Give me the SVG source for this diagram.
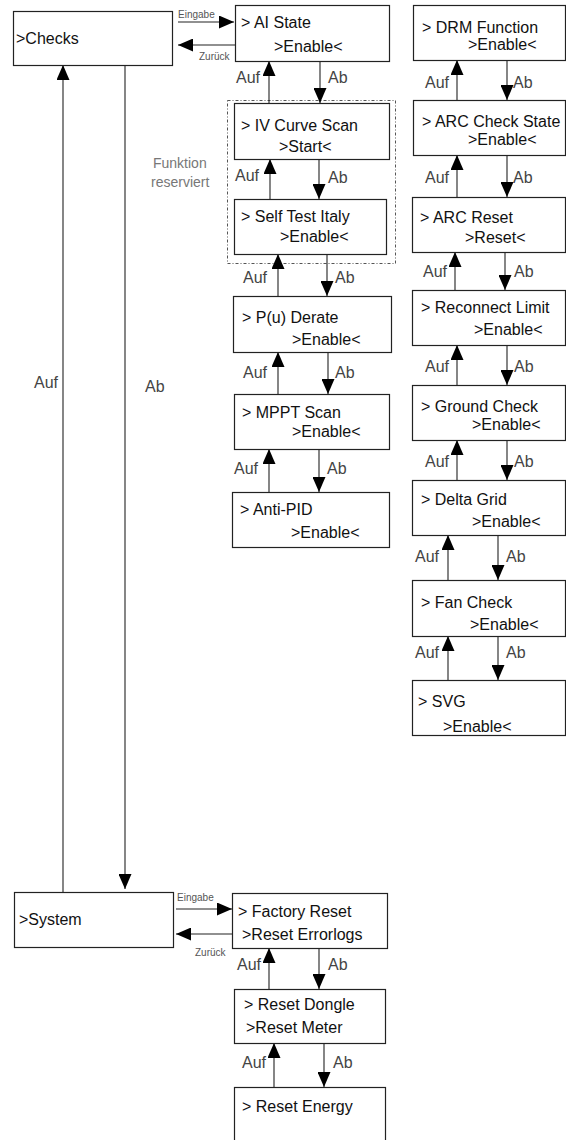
<svg xmlns="http://www.w3.org/2000/svg" width="566" height="1140" viewBox="0 0 566 1140">
<defs>
<style>
.box{fill:#fff;stroke:#222;stroke-width:1.2}
.t{font-family:"Liberation Sans",Arial,sans-serif;font-size:16px;fill:#111}
.lb{font-family:"Liberation Sans",Arial,sans-serif;font-size:16px;fill:#444}
.big{font-family:"Liberation Sans",Arial,sans-serif;font-size:16px;fill:#444}
.sm{font-family:"Liberation Sans",Arial,sans-serif;font-size:10px;fill:#555}
.fr{font-family:"Liberation Sans",Arial,sans-serif;font-size:14px;fill:#777}
.c{fill:none;stroke:#222;stroke-width:1.1;marker-end:url(#ah)}
.cl{fill:none;stroke:#555;stroke-width:1}
</style>
<marker id="ah" markerUnits="userSpaceOnUse" markerWidth="15" markerHeight="13" refX="15" refY="6.5" orient="auto">
<path d="M0,0 L15,6.5 L0,13 z" fill="#000"/>
</marker>
</defs>
<rect width="566" height="1140" fill="#fff"/>

<rect x="227.5" y="100.5" width="168" height="163" fill="none" stroke="#555" stroke-width="1" stroke-dasharray="3,2,1,2"/>
<text class="fr" x="153" y="168">Funktion</text>
<text class="fr" x="151" y="187">reserviert</text>

<g id="connectors">
<path class="c" d="M178,22 H234"/>
<path class="c" d="M235,45 H178"/>
<path class="c" d="M63,892 V65"/>
<path class="c" d="M125,65 V889"/>
<path class="c" d="M269,103 V61"/>
<path class="c" d="M320,61 V103"/>
<path class="c" d="M270,199 V159"/>
<path class="c" d="M319,159 V199"/>
<path class="c" d="M278,296 V254"/>
<path class="c" d="M327,254 V296"/>
<path class="c" d="M278,394 V352"/>
<path class="c" d="M328,352 V394"/>
<path class="c" d="M269,492 V449"/>
<path class="c" d="M319,449 V492"/>
<path class="c" d="M457,100 V60"/>
<path class="c" d="M507,60 V100"/>
<path class="c" d="M457,197 V155"/>
<path class="c" d="M507,155 V197"/>
<path class="c" d="M455,290 V252"/>
<path class="c" d="M505,252 V290"/>
<path class="c" d="M457,385 V345"/>
<path class="c" d="M507,345 V385"/>
<path class="c" d="M457,480 V440"/>
<path class="c" d="M507,440 V480"/>
<path class="c" d="M448,580 V535"/>
<path class="c" d="M498,535 V580"/>
<path class="c" d="M448,680 V636"/>
<path class="c" d="M498,636 V680"/>
<path class="c" d="M176,909 H232"/>
<path class="c" d="M232,934 H176"/>
<path class="c" d="M269,989 V948"/>
<path class="c" d="M319,948 V989"/>
<path class="c" d="M274,1087 V1043"/>
<path class="c" d="M324,1043 V1087"/>
<text class="sm" x="178" y="18">Eingabe</text>
<text class="sm" x="199" y="60">Zurück</text>
<text class="sm" x="177" y="901">Eingabe</text>
<text class="sm" x="195" y="956">Zurück</text>
<text class="big" x="34" y="388">Auf</text>
<text class="big" x="145" y="392">Ab</text>
<text class="lb" x="236" y="83">Auf</text><text class="lb" x="328" y="83">Ab</text>
<text class="lb" x="235" y="181">Auf</text><text class="lb" x="328" y="183">Ab</text>
<text class="lb" x="243" y="283">Auf</text><text class="lb" x="335" y="283">Ab</text>
<text class="lb" x="243" y="378">Auf</text><text class="lb" x="335" y="378">Ab</text>
<text class="lb" x="234" y="474">Auf</text><text class="lb" x="327" y="474">Ab</text>
<text class="lb" x="425" y="88">Auf</text><text class="lb" x="513" y="88">Ab</text>
<text class="lb" x="425" y="183">Auf</text><text class="lb" x="513" y="183">Ab</text>
<text class="lb" x="423" y="277">Auf</text><text class="lb" x="514" y="277">Ab</text>
<text class="lb" x="425" y="372">Auf</text><text class="lb" x="514" y="372">Ab</text>
<text class="lb" x="425" y="467">Auf</text><text class="lb" x="514" y="467">Ab</text>
<text class="lb" x="415" y="562">Auf</text><text class="lb" x="506" y="562">Ab</text>
<text class="lb" x="415" y="658">Auf</text><text class="lb" x="506" y="658">Ab</text>
<text class="lb" x="237" y="970">Auf</text><text class="lb" x="328" y="970">Ab</text>
<text class="lb" x="242" y="1068">Auf</text><text class="lb" x="333" y="1068">Ab</text>
</g>

<g id="checks"><rect class="box" x="13.5" y="11.5" width="159" height="54"/><text class="t" x="16" y="44">&gt;Checks</text></g>
<g id="ai-state"><rect class="box" x="235.5" y="5.5" width="154" height="56"/><text class="t" x="241" y="28">&gt; AI State</text><text class="t" x="274" y="52">&gt;Enable&lt;</text></g>
<g id="iv-curve"><rect class="box" x="234.5" y="103.5" width="155" height="56"/><text class="t" x="241" y="131">&gt; IV Curve Scan</text><text class="t" x="279" y="152">&gt;Start&lt;</text></g>
<g id="self-test"><rect class="box" x="234.5" y="199.5" width="152" height="55"/><text class="t" x="241" y="222">&gt; Self Test Italy</text><text class="t" x="280" y="242">&gt;Enable&lt;</text></g>
<g id="pu-derate"><rect class="box" x="233.5" y="296.5" width="158" height="56"/><text class="t" x="242" y="323">&gt; P(u) Derate</text><text class="t" x="292" y="345">&gt;Enable&lt;</text></g>
<g id="mppt"><rect class="box" x="234.5" y="394.5" width="155" height="55"/><text class="t" x="242" y="418">&gt; MPPT Scan</text><text class="t" x="292" y="437">&gt;Enable&lt;</text></g>
<g id="anti-pid"><rect class="box" x="232.5" y="492.5" width="157" height="55"/><text class="t" x="240" y="515">&gt; Anti-PID</text><text class="t" x="291" y="538">&gt;Enable&lt;</text></g>

<g id="drm"><rect class="box" x="413.5" y="5.5" width="152" height="55"/><text class="t" x="422" y="33">&gt; DRM Function</text><text class="t" x="468" y="50">&gt;Enable&lt;</text></g>
<g id="arc-check"><rect class="box" x="413.5" y="100.5" width="152" height="55"/><text class="t" x="422" y="127">&gt; ARC Check State</text><text class="t" x="468" y="145">&gt;Enable&lt;</text></g>
<g id="arc-reset"><rect class="box" x="412.5" y="197.5" width="153" height="55"/><text class="t" x="420" y="223">&gt; ARC Reset</text><text class="t" x="465" y="243">&gt;Reset&lt;</text></g>
<g id="reconnect"><rect class="box" x="412.5" y="290.5" width="153" height="55"/><text class="t" x="421" y="313">&gt; Reconnect Limit</text><text class="t" x="474" y="335">&gt;Enable&lt;</text></g>
<g id="ground"><rect class="box" x="412.5" y="385.5" width="153" height="55"/><text class="t" x="421" y="412">&gt; Ground Check</text><text class="t" x="472" y="430">&gt;Enable&lt;</text></g>
<g id="delta"><rect class="box" x="412.5" y="480.5" width="153" height="55"/><text class="t" x="421" y="505">&gt; Delta Grid</text><text class="t" x="472" y="527">&gt;Enable&lt;</text></g>
<g id="fan"><rect class="box" x="412.5" y="580.5" width="153" height="56"/><text class="t" x="421" y="608">&gt; Fan Check</text><text class="t" x="470" y="630">&gt;Enable&lt;</text></g>
<g id="svg-node"><rect class="box" x="412.5" y="680.5" width="153" height="55"/><text class="t" x="418" y="707">&gt; SVG</text><text class="t" x="443" y="732">&gt;Enable&lt;</text></g>

<g id="system"><rect class="box" x="14.5" y="892.5" width="159" height="55"/><text class="t" x="19" y="925">&gt;System</text></g>
<g id="factory"><rect class="box" x="232.5" y="893.5" width="155" height="55"/><text class="t" x="238" y="917">&gt; Factory Reset</text><text class="t" x="242" y="940">&gt;Reset Errorlogs</text></g>
<g id="dongle"><rect class="box" x="234.5" y="989.5" width="151" height="54"/><text class="t" x="244" y="1010">&gt; Reset Dongle</text><text class="t" x="246" y="1033">&gt;Reset Meter</text></g>
<g id="energy"><rect class="box" x="234.5" y="1087.5" width="151" height="60"/><text class="t" x="242" y="1112">&gt; Reset Energy</text></g>
</svg>
